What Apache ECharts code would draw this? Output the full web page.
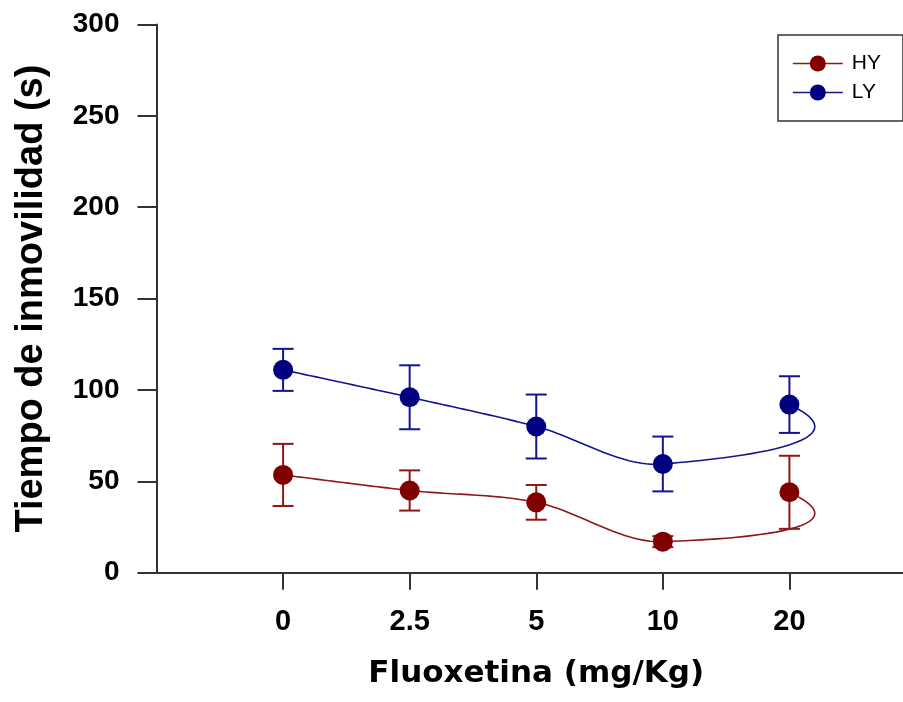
<!DOCTYPE html>
<html>
<head>
<meta charset="utf-8">
<title>Fluoxetina</title>
<script src="https://cdn.jsdelivr.net/npm/echarts@6/dist/echarts.min.js"></script>
<style>
  html, body { margin: 0; padding: 0; background: #fff; }
  #chart { width: 903px; height: 702px; }
</style>
</head>
<body>
<div id="chart"></div>
<script>
var doses = ['0', '2.5', '5', '10', '20'];
var seriesNames = ['HY', 'LY'];
var hyMean = [53.5, 45, 38.5, 17, 44];
var hyErr = [17, 11, 9.5, 3, 20];
var lyMean = [111, 96, 80, 59.5, 92];
var lyErr = [11.5, 17.5, 17.5, 15, 15.5];

var RED = '#800000';
var BLUE = '#000080';
var RED_LINE = '#8e1818';
var BLUE_LINE = '#14148e';

function toPoints(means, errs) {
  return means.map(function (v, i) {
    return [i, v, errs[i]];
  });
}

// smooth curve through the means; the last segment swings out past the
// final point and comes back, like the original plot's spline does
function curveRenderer(means, color) {
  var loop = [90, 42];
  return function (params, api) {
    if (params.dataIndex !== 0) {
      return;
    }
    var pts = means.map(function (v, i) {
      return api.coord([i, v]);
    });
    var out = [];
    for (var i = 0; i < pts.length - 1; i++) {
      var p0 = pts[i];
      var p1 = pts[i + 1];
      var prev = pts[i - 1] || p0;
      var next = pts[i + 2];
      var c1 = [p0[0] + (p1[0] - prev[0]) / 6, p0[1] + (p1[1] - prev[1]) / 6];
      var c2 = next
        ? [p1[0] - (next[0] - p0[0]) / 6, p1[1] - (next[1] - p0[1]) / 6]
        : [p1[0] + loop[0], p1[1] + loop[1]];
      for (var s = (i === 0 ? 0 : 1); s <= 30; s++) {
        var t = s / 30;
        var a = (1 - t) * (1 - t) * (1 - t);
        var b = 3 * (1 - t) * (1 - t) * t;
        var c = 3 * (1 - t) * t * t;
        var d = t * t * t;
        out.push([
          a * p0[0] + b * c1[0] + c * c2[0] + d * p1[0],
          a * p0[1] + b * c1[1] + c * c2[1] + d * p1[1]
        ]);
      }
    }
    return {
      type: 'polyline',
      shape: { points: out },
      style: { stroke: color, lineWidth: 1.6, fill: null }
    };
  };
}

function errorRenderer(color) {
  return function (params, api) {
    var x = api.value(0);
    var m = api.value(1);
    var e = api.value(2);
    var top = api.coord([x, m + e]);
    var bot = api.coord([x, m - e]);
    var half = 10.5;
    var st = { stroke: color, lineWidth: 2 };
    return {
      type: 'group',
      children: [
        { type: 'line', shape: { x1: top[0], y1: top[1], x2: bot[0], y2: bot[1] }, style: st },
        { type: 'line', shape: { x1: top[0] - half, y1: top[1], x2: top[0] + half, y2: top[1] }, style: st },
        { type: 'line', shape: { x1: bot[0] - half, y1: bot[1], x2: bot[0] + half, y2: bot[1] }, style: st }
      ]
    };
  };
}

var myChart = echarts.init(document.getElementById('chart'));

var option = {
  animation: false,
  backgroundColor: '#fff',
  grid: {
    left: 156.5,
    right: -13,
    top: 24.5,
    bottom: 129.3,
    outerBoundsMode: 'none'
  },
  legend: {
    orient: 'vertical',
    left: 778,
    top: 35,
    data: seriesNames,
    borderColor: '#333',
    borderWidth: 1.5,
    padding: [18, 22, 18, 14],
    itemWidth: 50,
    itemHeight: 20,
    itemGap: 8,
    lineStyle: { width: 1.6 },
    textStyle: {
      fontFamily: 'Liberation Sans',
      fontSize: 21,
      color: '#000',
      padding: [0, 0, 0, 4]
    }
  },
  xAxis: {
    type: 'value',
    min: -1,
    max: 5,
    interval: 1,
    name: 'Fluoxetina (mg/Kg)',
    nameLocation: 'middle',
    nameGap: 86,
    nameTextStyle: {
      fontFamily: 'DejaVu Sans',
      fontWeight: 'bold',
      fontSize: 31,
      color: '#000'
    },
    splitLine: { show: false },
    axisLine: { onZero: false, lineStyle: { color: '#333', width: 2 } },
    axisTick: {
      inside: false,
      length: 17,
      customValues: [0, 1, 2, 3, 4],
      lineStyle: { color: '#333', width: 2 }
    },
    axisLabel: {
      customValues: [0, 1, 2, 3, 4],
      margin: 35,
      fontFamily: 'Liberation Sans',
      fontWeight: 'bold',
      fontSize: 29,
      color: '#000',
      formatter: function (v) {
        return doses[v] || '';
      }
    }
  },
  yAxis: {
    type: 'value',
    min: 0,
    max: 300,
    interval: 50,
    name: 'Tiempo de inmovilidad (s)',
    nameLocation: 'middle',
    nameGap: 106,
    nameTextStyle: {
      fontFamily: 'Liberation Sans',
      fontWeight: 'bold',
      fontSize: 38,
      color: '#000'
    },
    splitLine: { show: false },
    axisLine: { show: true, onZero: false, lineStyle: { color: '#333', width: 2 } },
    axisTick: { show: true, length: 19, lineStyle: { color: '#333', width: 2 } },
    axisLabel: {
      margin: 37,
      fontFamily: 'Liberation Sans',
      fontWeight: 'bold',
      fontSize: 28,
      color: '#000'
    }
  },
  series: [
    {
      type: 'custom',
      name: 'HY curve',
      silent: true,
      z: 1,
      data: toPoints(hyMean, hyErr),
      encode: { x: 0, y: 1 },
      renderItem: curveRenderer(hyMean, RED_LINE)
    },
    {
      type: 'custom',
      name: 'LY curve',
      silent: true,
      z: 1,
      data: toPoints(lyMean, lyErr),
      encode: { x: 0, y: 1 },
      renderItem: curveRenderer(lyMean, BLUE_LINE)
    },
    {
      type: 'custom',
      name: 'HY err',
      silent: true,
      z: 2,
      data: toPoints(hyMean, hyErr),
      encode: { x: 0, y: 1 },
      renderItem: errorRenderer(RED_LINE)
    },
    {
      type: 'custom',
      name: 'LY err',
      silent: true,
      z: 2,
      data: toPoints(lyMean, lyErr),
      encode: { x: 0, y: 1 },
      renderItem: errorRenderer(BLUE_LINE)
    },
    {
      type: 'line',
      name: 'HY',
      z: 3,
      data: toPoints(hyMean, hyErr),
      encode: { x: 0, y: 1 },
      symbol: 'circle',
      symbolSize: 20,
      color: RED,
      itemStyle: { color: RED },
      lineStyle: { width: 0, color: RED_LINE },
      emphasis: { disabled: true }
    },
    {
      type: 'line',
      name: 'LY',
      z: 3,
      data: toPoints(lyMean, lyErr),
      encode: { x: 0, y: 1 },
      symbol: 'circle',
      symbolSize: 20,
      color: BLUE,
      itemStyle: { color: BLUE },
      lineStyle: { width: 0, color: BLUE_LINE },
      emphasis: { disabled: true }
    }
  ]
};

myChart.setOption(option);
</script>
</body>
</html>
